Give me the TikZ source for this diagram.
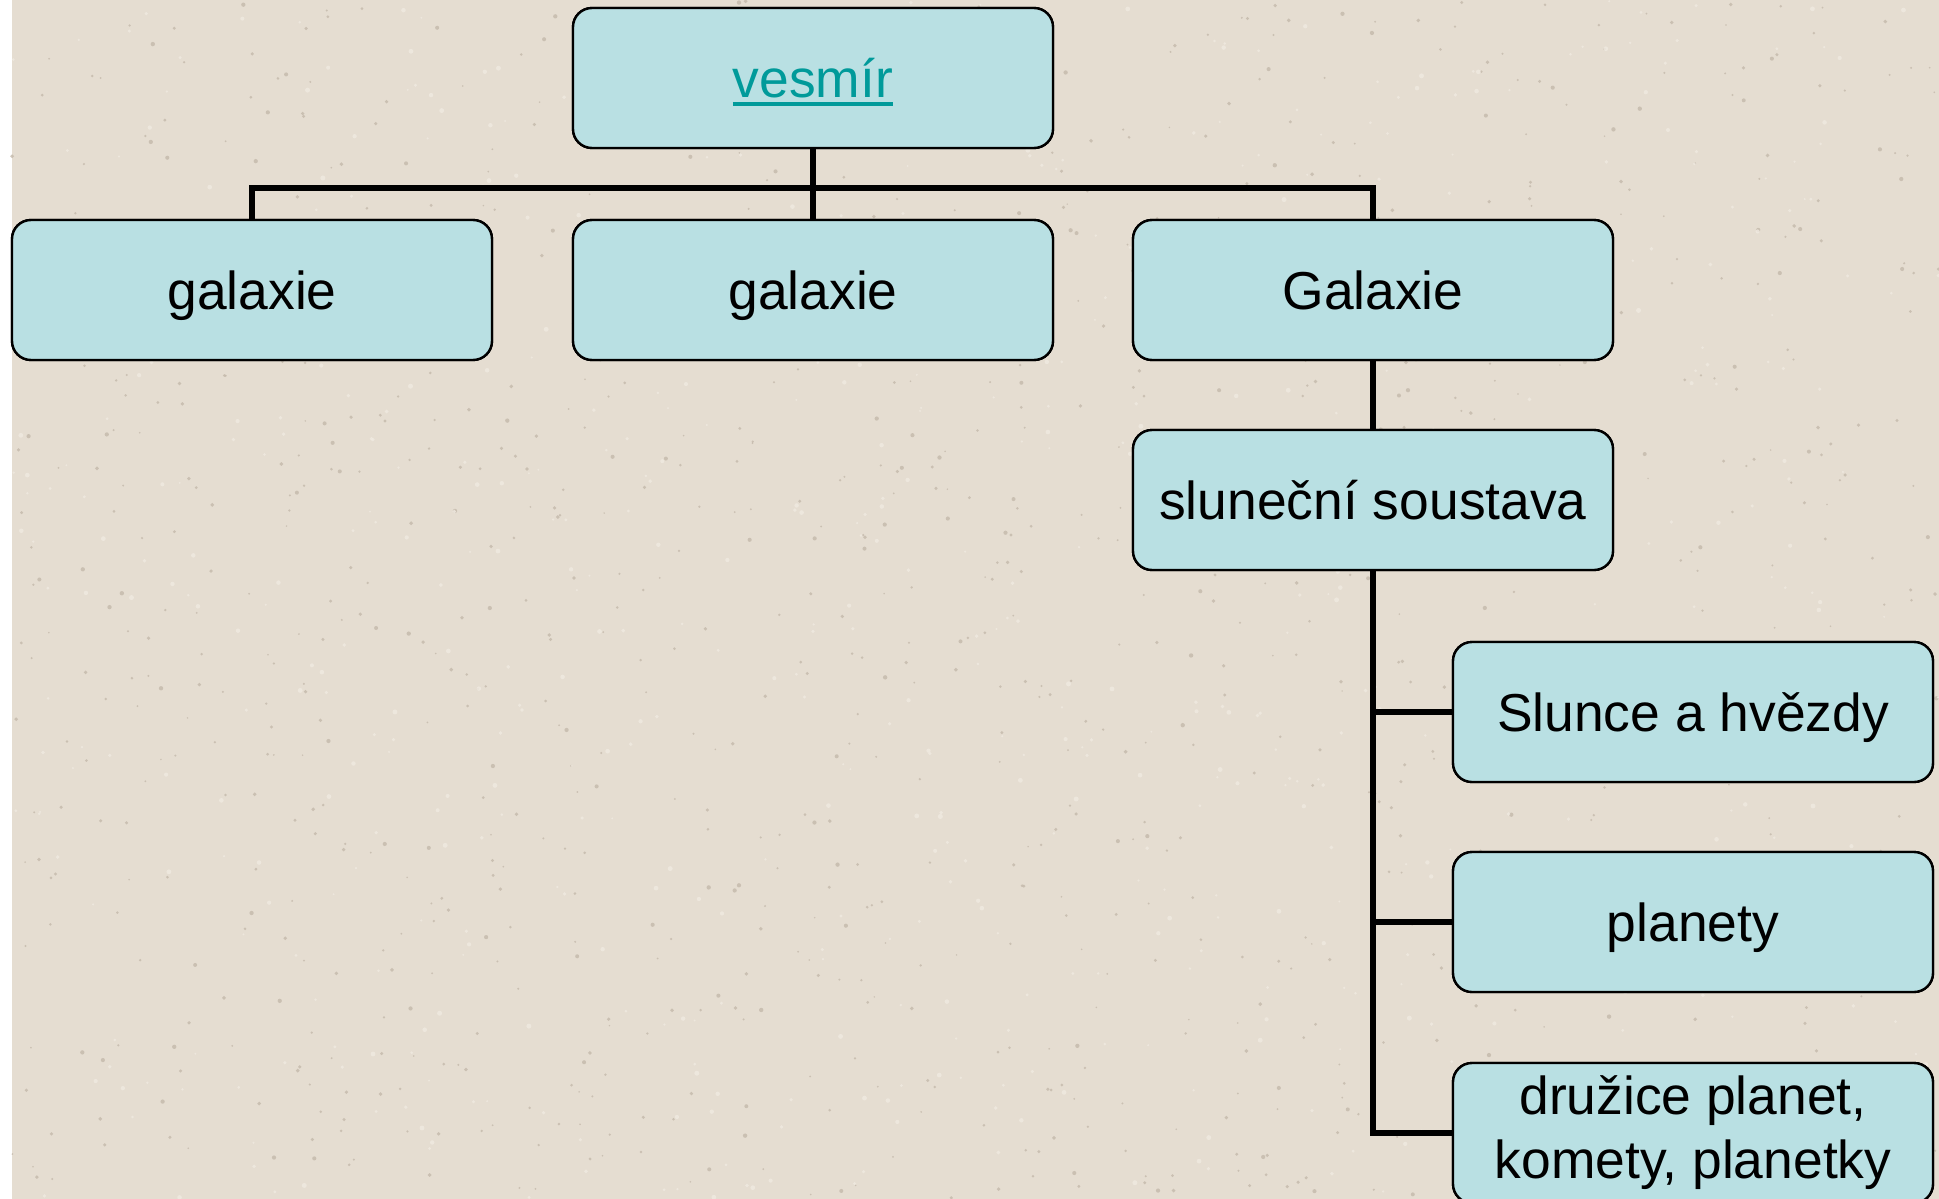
\documentclass[tikz,border=0pt]{standalone}
\usepackage{fontspec}
\setmainfont{Liberation Sans}
\definecolor{bgbeige}{HTML}{E5DDD1}
\definecolor{speck}{HTML}{C4B9AB}
\definecolor{specklight}{HTML}{F0EAE1}
\definecolor{boxfill}{HTML}{B9E0E3}
\definecolor{linkteal}{HTML}{009A9A}
\newcommand\ulinktext[1]{\setbox0\hbox{#1}\rlap{\color{linkteal}\rule[-4.6pt]{\wd0}{2.3pt}}\box0}
\tikzset{
  boxbase/.style={draw=black, line width=1.2pt, fill=boxfill, rounded corners=9.5pt,
    minimum width=240pt, minimum height=70pt, inner sep=0pt, align=center,
    font=\fontsize{26.7}{32}\selectfont, text=black},
  box/.style={boxbase, text height=24pt, text depth=5pt},
  conn/.style={draw=black, line width=3pt, line join=miter}
}
\begin{document}
\begin{tikzpicture}[x=0.5pt,y=-0.5pt]
\useasboundingbox (0,0) rectangle (1939,1199);
\clip (0,0) rectangle (1939,1199);
\fill[white] (0,0) rectangle (1939,1199);
\fill[bgbeige] (12,0) rectangle (1939,1199);
\pgfmathsetseed{7}
\foreach \i in {1,...,1100}{
  \pgfmathsetmacro\px{12+rnd*1927}
  \pgfmathsetmacro\py{rnd*1199}
  \pgfmathsetmacro\pr{0.8+rnd*1.4}
  \fill[speck,opacity=0.8] (\px,\py) circle[radius=\pr];
}
\foreach \i in {1,...,700}{
  \pgfmathsetmacro\px{12+rnd*1927}
  \pgfmathsetmacro\py{rnd*1199}
  \pgfmathsetmacro\pr{1+rnd*1.5}
  \fill[specklight,opacity=0.8] (\px,\py) circle[radius=\pr];
}
% nodes
\node[box] (ves) at (813,78) {\color{linkteal}\ulinktext{vesmír}};
\node[box] (g1) at (252,290) {galaxie};
\node[box] (g2) at (813,290) {galaxie};
\node[box] (g3) at (1373,290) {Galaxie};
\node[box] (sol) at (1373,500) {sluneční soustava};
\node[box] (sun) at (1693,712) {Slunce a hvězdy};
\node[box] (pl) at (1693,922) {planety};
\node[boxbase] (dr) at (1693,1133) {družice planet,\\komety, planetky};
% connectors
\coordinate (bar) at (813,188);
\draw[conn] (g1.north) |- (bar) -| (g3.north);
\draw[conn] (ves.south) -- (g2.north);
\draw[conn] (g3.south) -- (sol.north);
\draw[conn] (sol.south) |- (dr.west);
\draw[conn] (sol.south) |- (sun.west);
\draw[conn] (sol.south) |- (pl.west);
% redraw boxes on top of line ends
\node[box] at (ves) {\color{linkteal}\ulinktext{vesmír}};
\node[box] at (g1) {galaxie};
\node[box] at (g2) {galaxie};
\node[box] at (g3) {Galaxie};
\node[box] at (sol) {sluneční soustava};
\node[box] at (sun) {Slunce a hvězdy};
\node[box] at (pl) {planety};
\node[boxbase] at (dr) {družice planet,\\komety, planetky};
\end{tikzpicture}
\end{document}
